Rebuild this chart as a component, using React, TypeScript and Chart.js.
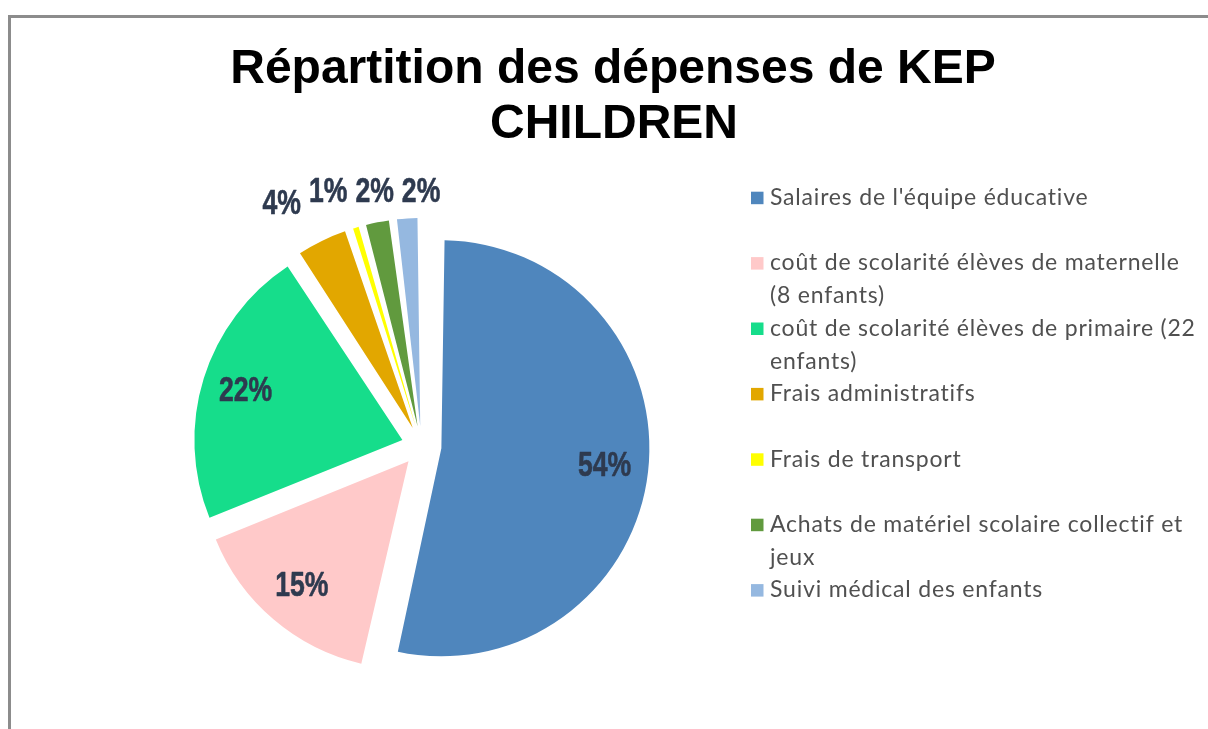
import React, { useEffect, useRef } from "react";
import { Chart, registerables } from "chart.js";

Chart.register(...registerables);

// ---------- data ----------
const TITLE_LINES: string[] = ["Répartition des dépenses de KEP", "CHILDREN"];

const CATEGORIES: string[] = [
  "Salaires de l'équipe éducative",
  "coût de scolarité élèves de maternelle (8 enfants)",
  "coût de scolarité élèves de primaire (22 enfants)",
  "Frais administratifs",
  "Frais de transport",
  "Achats de matériel scolaire collectif et jeux",
  "Suivi médical des enfants",
];

const LEGEND_LINES: string[][] = [
  ["Salaires de l'équipe éducative"],
  ["coût de scolarité élèves de maternelle", "(8 enfants)"],
  ["coût de scolarité élèves de primaire (22", "enfants)"],
  ["Frais administratifs"],
  ["Frais de transport"],
  ["Achats de matériel scolaire collectif et", "jeux"],
  ["Suivi médical des enfants"],
];

const VALUES: number[] = [53.6, 15.3, 21.8, 4.2, 0.9, 2.2, 2.0];

const COLORS: string[] = [
  "#4F86BD",
  "#FFC9C9",
  "#16DD8B",
  "#E2A700",
  "#FFFF00",
  "#619A3E",
  "#95B8E0",
];

// ---------- style ----------
const W = 1208;
const H = 729;
const RADIUS = 208;
const EXPLODE = 20; // px translation of every slice
const LABEL_COLOR = "#2E3A4F";
const LABEL_FONT = 'bold 35px "Liberation Sans", Arial, sans-serif';
const LABEL_SCALE_X = 0.76;
const LEGEND_FONT = '23px Lato, "Open Sans", sans-serif';
const LEGEND_COLOR = "#505050";

const framePlugin = {
  id: "frame",
  beforeDraw(chart: any) {
    const ctx = chart.ctx;
    ctx.save();
    ctx.strokeStyle = "#8c8c8c";
    ctx.lineWidth = 3;
    ctx.strokeRect(9.5, 16.5, 2000, 2000);
    ctx.restore();
  },
};

// keep a uniform radius for every exploded slice
const radiusPlugin = {
  id: "uniformRadius",
  afterDatasetsUpdate(chart: any) {
    const meta = chart.getDatasetMeta(0);
    meta.data.forEach((arc: any) => {
      const off = ((arc.options && arc.options.offset) || 0) / 4;
      const fix = 1 - Math.sin(Math.min(Math.PI, arc.circumference || 0));
      arc.outerRadius = RADIUS - off * fix;
    });
  },
};

const titlePlugin = {
  id: "titleText",
  afterDraw(chart: any) {
    const ctx = chart.ctx;
    ctx.save();
    ctx.fillStyle = "#000";
    ctx.font = 'bold 48px "Liberation Sans", Arial, sans-serif';
    ctx.textAlign = "center";
    ctx.textBaseline = "alphabetic";
    ctx.fillText(TITLE_LINES[0], 613, 83);
    ctx.fillText(TITLE_LINES[1], 614, 138);
    ctx.restore();
  },
};

const labelsPlugin = {
  id: "pctLabels",
  afterDraw(chart: any) {
    const ctx = chart.ctx;
    const meta = chart.getDatasetMeta(0);
    const total = VALUES.reduce((a, b) => a + b, 0);
    ctx.save();
    ctx.font = LABEL_FONT;
    const items: any[] = [];
    meta.data.forEach((arc: any, i: number) => {
      const pct = (VALUES[i] / total) * 100;
      const text = Math.round(pct) + "%";
      const mid = (arc.startAngle + arc.endAngle) / 2;
      const dx = Math.cos(mid);
      const dy = Math.sin(mid);
      const w = ctx.measureText(text).width * LABEL_SCALE_X;
      const h = 25;
      if (pct >= 5) {
        const d = EXPLODE + 0.79 * RADIUS;
        items.push({ text, x: arc.x + dx * d, y: arc.y + dy * d, w, inside: true });
      } else {
        const d = EXPLODE + RADIUS + 14;
        items.push({
          text,
          x: arc.x + dx * d + dx * w / 2,
          y: arc.y + dy * d + dy * h / 2,
          w,
          inside: false,
        });
      }
    });
    // spread outside labels that collide
    const outs = items.filter((it) => !it.inside).sort((a, b) => a.x - b.x);
    const gap = 8;
    const clusters: any[][] = [];
    outs.forEach((it) => {
      const last = clusters[clusters.length - 1];
      if (last) {
        const p = last[last.length - 1];
        if (it.x - p.x < (it.w + p.w) / 2 + gap && Math.abs(it.y - p.y) < 25) {
          last.push(it);
          return;
        }
      }
      clusters.push([it]);
    });
    clusters.forEach((cl) => {
      if (cl.length < 2) return;
      const meanX = cl.reduce((s, it) => s + it.x, 0) / cl.length;
      const minY = Math.min(...cl.map((it) => it.y));
      const rel: number[] = [0];
      for (let k = 1; k < cl.length; k++) {
        rel.push(rel[k - 1] + (cl[k - 1].w + cl[k].w) / 2 + gap);
      }
      const meanRel = rel.reduce((s, v) => s + v, 0) / rel.length;
      cl.forEach((it, k) => {
        it.x = meanX - meanRel + rel[k] - 6;
        it.y = minY;
      });
      // the leftmost label sits a little lower, following the rim
      cl[0].y = minY + 12;
    });
    ctx.fillStyle = LABEL_COLOR;
    ctx.strokeStyle = LABEL_COLOR;
    ctx.lineWidth = 0.6;
    ctx.lineJoin = "round";
    ctx.textAlign = "center";
    ctx.textBaseline = "middle";
    items.forEach((it) => {
      ctx.save();
      ctx.translate(it.x, it.y);
      ctx.scale(LABEL_SCALE_X, 1);
      ctx.fillText(it.text, 0, 0);
      ctx.strokeText(it.text, 0, 0);
      ctx.restore();
    });
    ctx.restore();
  },
};

const legendPlugin = {
  id: "sideLegend",
  afterDraw(chart: any) {
    const ctx = chart.ctx;
    ctx.save();
    ctx.font = LEGEND_FONT;
    try {
      (ctx as any).letterSpacing = "0.8px";
    } catch (e) {}
    ctx.textAlign = "left";
    ctx.textBaseline = "alphabetic";
    const x0 = 751;
    const firstBase = 205;
    const slot = 65.4;
    const lineH = 32.7;
    LEGEND_LINES.forEach((lines, i) => {
      const base = firstBase + slot * i;
      ctx.fillStyle = COLORS[i];
      ctx.fillRect(x0, base - 13.3, 12.5, 12.5);
      ctx.fillStyle = LEGEND_COLOR;
      lines.forEach((ln, k) => {
        ctx.fillText(ln, x0 + 19, base + k * lineH);
      });
    });
    ctx.restore();
  },
};

export default function App() {
  const ref = useRef<HTMLCanvasElement | null>(null);
  useEffect(() => {
    if (!ref.current) return;
    const chart = new Chart(ref.current, {
      type: "pie",
      data: {
        labels: CATEGORIES,
        datasets: [
          {
            data: VALUES,
            backgroundColor: COLORS,
            borderWidth: 0,
            offset: EXPLODE * 4,
            radius: RADIUS,
          } as any,
        ],
      },
      options: {
        responsive: false,
        animation: false,
        events: [],
        layout: { padding: { left: 200, right: 565, top: 224, bottom: 61 } },
        plugins: {
          legend: { display: false },
          title: { display: false },
          tooltip: { enabled: false },
        },
      } as any,
      plugins: [framePlugin, radiusPlugin, titlePlugin, labelsPlugin, legendPlugin],
    });
    return () => chart.destroy();
  }, []);
  return (
    <div style={{ position: "fixed", left: 0, top: 0, width: W, height: H, background: "#fff" }}>
      <canvas ref={ref} width={W} height={H} style={{ width: W, height: H, display: "block" }} />
    </div>
  );
}
